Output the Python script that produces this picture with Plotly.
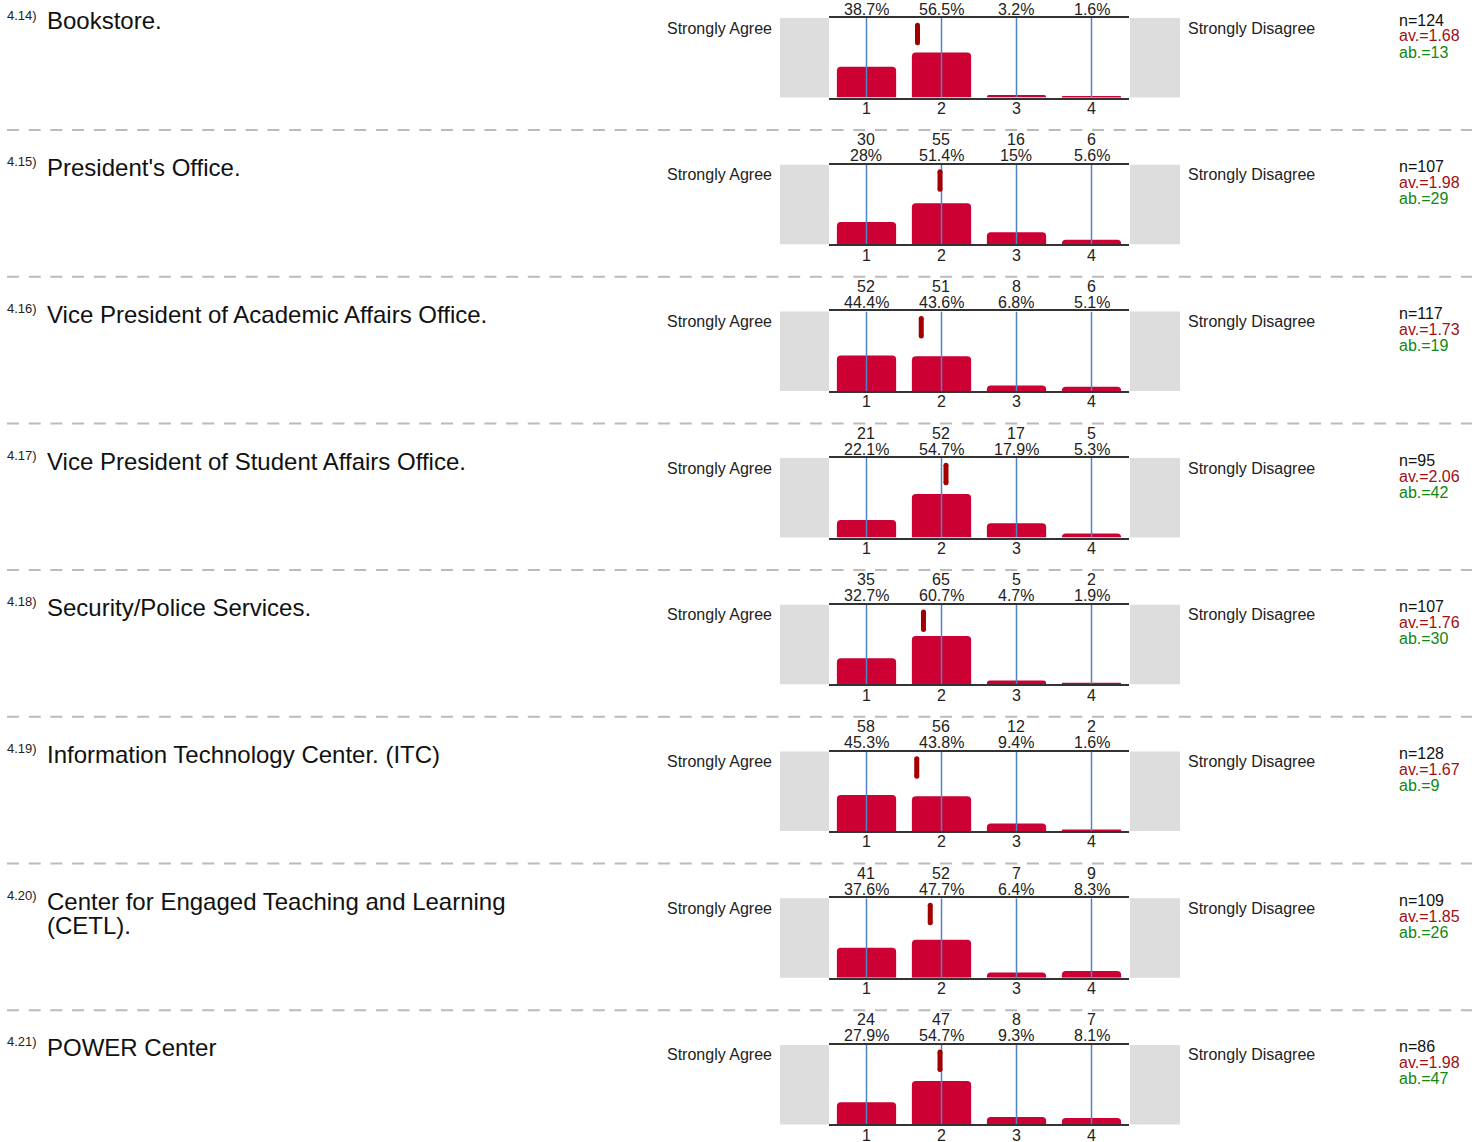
import plotly.graph_objects as go

FIG_W, FIG_H = 1477, 1142

# ---------------------------------------------------------
# Data
# ---------------------------------------------------------
question_ids = ["4.14)", "4.15)", "4.16)", "4.17)", "4.18)", "4.19)", "4.20)", "4.21)"]
question_titles = [
    "Bookstore.",
    "President's Office.",
    "Vice President of Academic Affairs Office.",
    "Vice President of Student Affairs Office.",
    "Security/Police Services.",
    "Information Technology Center. (ITC)",
    "Center for Engaged Teaching and Learning<br>(CETL).",
    "POWER Center",
]
scale_values = [1, 2, 3, 4]
scale_low_label = "Strongly Agree"
scale_high_label = "Strongly Disagree"

answer_counts = [
    [48, 70, 4, 2],
    [30, 55, 16, 6],
    [52, 51, 8, 6],
    [21, 52, 17, 5],
    [35, 65, 5, 2],
    [58, 56, 12, 2],
    [41, 52, 7, 9],
    [24, 47, 8, 7],
]
answer_percents = [
    [38.7, 56.5, 3.2, 1.6],
    [28, 51.4, 15, 5.6],
    [44.4, 43.6, 6.8, 5.1],
    [22.1, 54.7, 17.9, 5.3],
    [32.7, 60.7, 4.7, 1.9],
    [45.3, 43.8, 9.4, 1.6],
    [37.6, 47.7, 6.4, 8.3],
    [27.9, 54.7, 9.3, 8.1],
]
n_answers = [124, 107, 117, 95, 107, 128, 109, 86]
averages = [1.68, 1.98, 1.73, 2.06, 1.76, 1.67, 1.85, 1.98]
abstentions = [13, 29, 19, 42, 30, 9, 26, 47]

# ---------------------------------------------------------
# Geometry / style (pixels)
# ---------------------------------------------------------
PANEL_PITCH = 146.7
FIRST_BOX_TOP = 18
BOX_H = 79.5
PLOT_X0, PLOT_X1 = 829, 1129
FONT = "Arial, Liberation Sans, sans-serif"
TEXT_COLOR = "#222222"
BAR_COLOR = "#cc0033"
MEAN_COLOR = "#a30000"
GRID_COLOR = "#4d85c5"
MEAN_LOW, MEAN_HIGH = 69, 91


def pxx(p):
    return p / FIG_W


def pxy(p):
    return 1 - p / FIG_H


figure = go.Figure()
annotations = []
shapes = []
layout_axes = {}

for i, title in enumerate(question_titles):
    top = FIRST_BOX_TOP + i * PANEL_PITCH
    sfx = "" if i == 0 else str(i + 1)
    xa, ya = "x" + sfx, "y" + sfx

    layout_axes["xaxis" + sfx] = dict(
        domain=[pxx(PLOT_X0), pxx(PLOT_X1)],
        range=[0.5, 4.5],
        anchor=ya,
        tickvals=scale_values,
        ticks="",
        showticklabels=False,
        automargin=False,
        showgrid=False,
        zeroline=False,
        showline=True,
        mirror=True,
        linecolor="#333333",
        linewidth=2,
        fixedrange=True,
    )
    layout_axes["yaxis" + sfx] = dict(
        domain=[pxy(top + BOX_H), pxy(top)],
        range=[0, 100],
        anchor=xa,
        visible=False,
        automargin=False,
        fixedrange=True,
    )

    # bars
    figure.add_trace(
        go.Bar(
            x=scale_values,
            y=answer_percents[i],
            width=0.79,
            marker=dict(color=BAR_COLOR, line_width=0, cornerradius=4),
            xaxis=xa,
            yaxis=ya,
        )
    )
    # vertical category lines
    gx, gy = [], []
    for v in scale_values:
        gx += [v, v, None]
        gy += [0, 100, None]
    figure.add_trace(
        go.Scatter(x=gx, y=gy, mode="lines", line=dict(color=GRID_COLOR, width=1.5), xaxis=xa, yaxis=ya)
    )
    # mean marker
    figure.add_trace(
        go.Scatter(
            x=[averages[i], averages[i]],
            y=[MEAN_LOW, MEAN_HIGH],
            mode="lines+markers",
            line=dict(color=MEAN_COLOR, width=5),
            marker=dict(color=MEAN_COLOR, size=5),
            xaxis=xa,
            yaxis=ya,
        )
    )

    # grey end boxes
    for x0, x1 in [(-49 / 300, 0), (1 + 1 / 300, 1 + 51 / 300)]:
        shapes.append(
            dict(
                type="rect",
                xref=xa + " domain",
                yref=ya + " domain",
                x0=x0,
                x1=x1,
                y0=0,
                y1=1,
                fillcolor="#dddddd",
                line_width=0,
                layer="below",
            )
        )

    # counts and percentages above the box, scale values below it
    for v, c, p in zip(scale_values, answer_counts[i], answer_percents[i]):
        for txt, ypos, shift in [(f"{p:g}%", 1, 9), (str(c), 1, 25), (str(v), 0, -11)]:
            annotations.append(
                dict(
                    x=v,
                    y=ypos,
                    xref=xa,
                    yref=ya + " domain",
                    text=txt,
                    showarrow=False,
                    yanchor="middle",
                    yshift=shift,
                    font=dict(family=FONT, size=16, color=TEXT_COLOR),
                )
            )

    # scale end labels
    annotations.append(
        dict(x=pxx(774), y=pxy(top + 10), xref="paper", yref="paper", xanchor="right", yanchor="middle",
             text=scale_low_label, showarrow=False, font=dict(family=FONT, size=16, color=TEXT_COLOR))
    )
    annotations.append(
        dict(x=pxx(1186), y=pxy(top + 10), xref="paper", yref="paper", xanchor="left", yanchor="middle",
             text=scale_high_label, showarrow=False, font=dict(family=FONT, size=16, color=TEXT_COLOR))
    )

    # stats
    stats = [
        (f"n={n_answers[i]}", "#111111"),
        (f"av.={averages[i]:.2f}", "#a01010"),
        (f"ab.={abstentions[i]}", "#118811"),
    ]
    for k, (txt, col) in enumerate(stats):
        annotations.append(
            dict(x=pxx(1397), y=pxy(top + 2 + 16 * k), xref="paper", yref="paper", xanchor="left",
                 yanchor="middle", text=txt, showarrow=False, font=dict(family=FONT, size=16, color=col))
        )

    # question number and title
    annotations.append(
        dict(x=pxx(5), y=pxy(top - 3), xref="paper", yref="paper", xanchor="left", yanchor="middle",
             text=question_ids[i], showarrow=False, font=dict(family=FONT, size=13, color=TEXT_COLOR))
    )
    for k, line in enumerate(title.split("<br>")):
        annotations.append(
            dict(x=pxx(45), y=pxy(top + 3 + 24 * k), xref="paper", yref="paper", xanchor="left",
                 yanchor="middle", text=line, showarrow=False, font=dict(family=FONT, size=24, color="#111111"))
        )

    # dashed divider above the panel
    if i > 0:
        dy = pxy(top - 34.7)
        shapes.append(
            dict(type="line", xref="paper", yref="paper", x0=pxx(7), x1=pxx(1472), y0=dy, y1=dy,
                 line=dict(color="#bbbbbb", width=2, dash="12px,9.7px"))
        )

figure.update_layout(
    width=FIG_W,
    height=FIG_H,
    margin=dict(l=0, r=0, t=0, b=0, autoexpand=False),
    paper_bgcolor="white",
    plot_bgcolor="white",
    showlegend=False,
    hovermode=False,
    annotations=annotations,
    shapes=shapes,
    **layout_axes,
)

# drop the default page margin so the figure sits at the top-left corner
figure.write_html(
    "out.html",
    config={"displayModeBar": False},
    post_script="document.body.style.margin='0';",
)
